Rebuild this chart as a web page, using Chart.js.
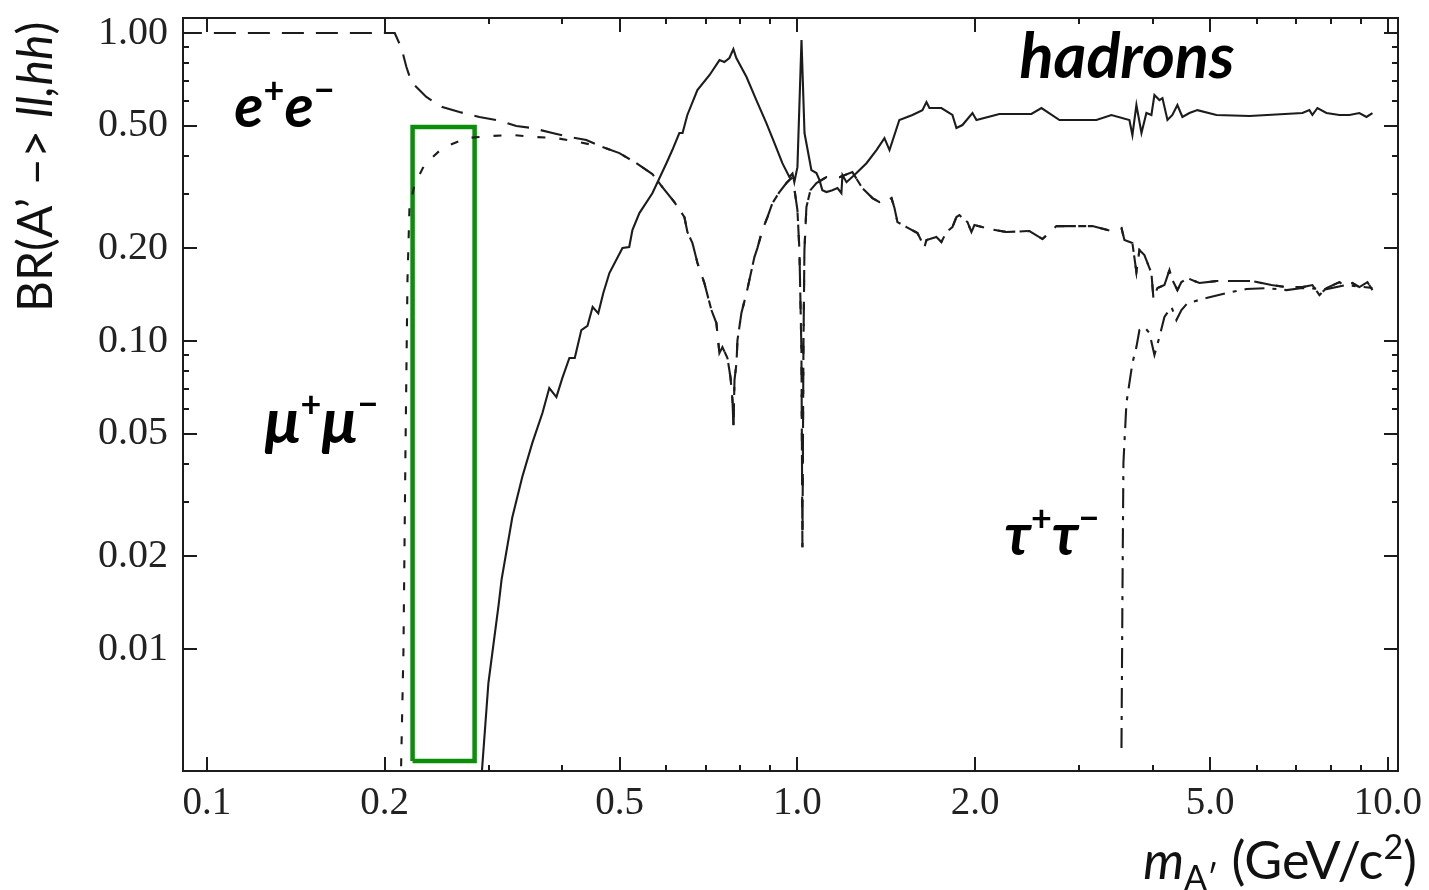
<!DOCTYPE html>
<html><head><meta charset="utf-8">
<script src="https://cdn.jsdelivr.net/npm/chart.js@4/dist/chart.umd.min.js"></script>
<style>html,body{margin:0;padding:0;background:#fff;}#wrap{width:1429px;height:890px;}</style>
</head><body><div id="wrap"><canvas id="c" width="1429" height="890"></canvas></div>
<script>
// ---- data ----
const hadX=[0.291,0.2997,0.312,0.3155,0.329,0.342,0.3557,0.370,0.380,0.3907,0.3998,0.411,0.4197,0.4306,0.441,0.450,0.460,0.469,0.4804,0.5055,0.519,0.5255,0.540,0.568,0.600,0.614,0.631,0.639,0.651,0.677,0.710,0.738,0.752,0.767,0.779,0.788,0.820,0.852,0.886,0.914,0.943,0.969,0.981,0.988,1.000,1.016,1.028,1.056,1.077,1.090,1.102,1.120,1.146,1.169,1.187,1.192,1.211,1.259,1.309,1.361,1.404,1.432,1.488,1.566,1.628,1.654,1.673,1.753,1.830,1.859,1.903,1.979,2.010,2.198,2.490,2.590,2.778,3.208,3.402,3.649,3.692,3.750,3.825,3.899,3.976,4.023,4.102,4.151,4.233,4.315,4.400,4.487,4.611,4.757,5.124,5.829,7.165,7.362,7.449,7.597,7.867,8.277,8.605,8.946,9.196,9.414];
const hadY=[0.0036,0.00776,0.0140,0.0168,0.0268,0.0362,0.0467,0.0584,0.0704,0.0658,0.0758,0.0881,0.0881,0.1086,0.112,0.129,0.123,0.143,0.1663,0.2004,0.202,0.2293,0.2603,0.302,0.378,0.417,0.4735,0.4735,0.542,0.653,0.731,0.817,0.805,0.83,0.887,0.83,0.72,0.606,0.51,0.440,0.378,0.341,0.35,0.328,0.367,0.949,0.4735,0.359,0.351,0.333,0.309,0.3046,0.309,0.3138,0.302,0.346,0.328,0.351,0.378,0.417,0.456,0.417,0.522,0.542,0.562,0.597,0.571,0.571,0.542,0.4915,0.5027,0.55,0.522,0.546,0.546,0.571,0.522,0.522,0.542,0.522,0.4665,0.584,0.4735,0.55,0.542,0.629,0.606,0.615,0.522,0.542,0.584,0.534,0.55,0.562,0.542,0.538,0.55,0.562,0.542,0.571,0.55,0.542,0.542,0.55,0.534,0.55];

const eeLowX=[0.0900,0.208,0.2135,0.2177,0.222,0.2353,0.2504,0.2677,0.2893,0.3093,0.3342,0.3557,0.3847,0.4111,0.4392];
const eeLowY=[1.0,1.0,0.894,0.776,0.693,0.620,0.575,0.554,0.534,0.522,0.499,0.4915,0.4735,0.4596,0.4494];

const muLowX=[0.2125,0.2152,0.2169,0.2186,0.2203,0.2246,0.2335,0.2504,0.2751,0.3009,0.329,0.3614,0.3907,0.4274];
const muLowY=[0.003,0.00993,0.0443,0.158,0.270,0.321,0.373,0.423,0.456,0.463,0.4665,0.4596,0.456,0.4426];

// e+e- and mu+mu- coincide above ~0.46 GeV
const lepX=[0.4675,0.4995,0.5336,0.568,0.5906,0.6189,0.6436,0.6512,0.6641,0.6772,0.6957,0.7150,0.7291,0.7348,0.7377,0.7464,0.7612,0.7702,0.7763,0.7793,0.7824,0.7885,0.7915,0.8038,0.820,0.8293,0.8456,0.8555,0.8723,0.8897,0.9072,0.9322,0.958,0.9768,0.9845,1.000,1.0078,1.0157,1.0197,1.0237,1.0277,1.0357,1.052,1.077,1.120,1.178,1.239,1.288,1.340,1.377,1.420,1.443,1.460,1.477,1.530,1.597,1.641,1.654,1.719,1.753,1.788,1.830,1.859,1.881,1.903,1.941,1.971,1.994,2.114,2.259,2.471,2.600,2.746,2.922,3.159,3.402,3.538,3.579,3.692,3.750,3.795,3.869,3.976,4.007,4.070,4.183,4.266,4.315,4.400,4.470,4.576,4.794,5.124,5.453,5.895,6.348,6.732,7.165,7.449,7.656,7.867,8.277,8.505,8.707,8.946,9.232,9.414];
const lepY=[0.4264,0.4076,0.378,0.3484,0.3162,0.2827,0.2527,0.2259,0.208,0.1792,0.1543,0.1261,0.1144,0.0986,0.0914,0.0956,0.0881,0.0764,0.0643,0.0522,0.0747,0.0848,0.1007,0.1233,0.1432,0.158,0.1874,0.2004,0.2293,0.2527,0.2805,0.3046,0.3258,0.3382,0.328,0.2662,0.1974,0.0935,0.0214,0.0935,0.1974,0.2723,0.309,0.3258,0.3406,0.3406,0.3537,0.3138,0.2912,0.2827,0.287,0.2912,0.2703,0.2434,0.2345,0.2242,0.2019,0.2128,0.2176,0.2097,0.2259,0.2345,0.2527,0.2565,0.2508,0.2434,0.2259,0.2380,0.2311,0.2259,0.2277,0.2144,0.2362,0.2362,0.2362,0.2277,0.2328,0.2128,0.208,0.1675,0.1974,0.1902,0.1663,0.1379,0.1486,0.152,0.170,0.158,0.1464,0.1554,0.1601,0.1543,0.1566,0.1566,0.1566,0.152,0.1497,0.1497,0.152,0.1411,0.1486,0.1554,0.1497,0.1543,0.1497,0.1554,0.1464];

const tauX=[3.538,3.551,3.565,3.579,3.607,3.649,3.692,3.750,3.795,3.869,3.946,4.023,4.102,4.183,4.299,4.383,4.470,4.576,4.926,5.327,5.759,6.226,6.732,7.165,7.867,8.505,9.414];
const tauY=[0.00477,0.0144,0.0402,0.0467,0.0629,0.0730,0.0848,0.0956,0.1086,0.111,0.1062,0.0901,0.1030,0.1197,0.129,0.117,0.1261,0.1328,0.1379,0.1432,0.1475,0.1486,0.1464,0.1486,0.1475,0.152,0.1486];

// highlighted mass window (green box)
const boxX=[0.223,0.223,0.284,0.284,0.223];
const boxY=[0.00433,0.495,0.495,0.00433,0.00433];

const xTicks=[0.1,0.2,0.5,1,2,5,10];
const xTickLabels=['0.1','0.2','0.5','1.0','2.0','5.0','10.0'];
const xMinor=[0.3,0.4,0.6,0.7,0.8,0.9,3,4,6,7,8,9];
const yTicks=[0.01,0.02,0.05,0.1,0.2,0.5,1];
const yTickLabels=['0.01','0.02','0.05','0.10','0.20','0.50','1.00'];
const yMinor=[0.03,0.04,0.06,0.07,0.08,0.09,0.3,0.4,0.6,0.7,0.8,0.9];

// ---- build ----
const pts=(xs,ys)=>xs.map((x,i)=>({x:x,y:ys[i]}));
const eeData=pts(eeLowX.concat(lepX),eeLowY.concat(lepY));
const muData=pts(muLowX.concat(lepX),muLowY.concat(lepY));
const INK='#1c1c1c';
const SANS="Lato, 'Open Sans', 'Noto Sans', sans-serif";

function runsWidth(ctx,runs){let w=0;for(const r of runs){ctx.font=r.f;w+=ctx.measureText(r.t).width;}return w;}
function drawRuns(ctx,runs,x,y){let cx=x;for(const r of runs){ctx.font=r.f;ctx.fillText(r.t,cx,y+(r.dy||0));cx+=ctx.measureText(r.t).width;}}

const decor={
  id:'decor',
  afterDraw(chart){
    const ctx=chart.ctx, a=chart.chartArea, xs=chart.scales.x, ys=chart.scales.y;
    ctx.save();
    ctx.strokeStyle=INK; ctx.lineWidth=2;
    ctx.strokeRect(a.left,a.top,a.right-a.left,a.bottom-a.top);
    const MAJ=14, MIN=6;
    ctx.beginPath();
    const xt=(v,l)=>{const p=Math.round(xs.getPixelForValue(v));ctx.moveTo(p,a.bottom);ctx.lineTo(p,a.bottom-l);ctx.moveTo(p,a.top);ctx.lineTo(p,a.top+l);};
    const yt=(v,l)=>{const p=Math.round(ys.getPixelForValue(v));ctx.moveTo(a.left,p);ctx.lineTo(a.left+l,p);ctx.moveTo(a.right,p);ctx.lineTo(a.right-l,p);};
    xTicks.forEach(v=>xt(v,MAJ)); xMinor.forEach(v=>xt(v,MIN));
    yTicks.forEach(v=>yt(v,MAJ)); yMinor.forEach(v=>yt(v,MIN));
    ctx.stroke();

    ctx.fillStyle='#000'; ctx.textBaseline='alphabetic'; ctx.textAlign='left';
    const P=(x,y)=>[xs.getPixelForValue(x),ys.getPixelForValue(y)];
    const bi='italic bold 60px '+SANS, sup='bold 36px '+SANS;
    const gi='italic bold 64px '+SANS;
    let p=P(0.1113,0.495);
    drawRuns(ctx,[{t:'e',f:bi},{t:'+',f:sup,dy:-24},{t:'e',f:bi},{t:'\u2212',f:sup,dy:-24}],p[0],p[1]);
    p=P(0.1252,0.0467);
    drawRuns(ctx,[{t:'\u03bc',f:gi},{t:'+',f:sup,dy:-26},{t:'\u03bc',f:gi},{t:'\u2212',f:sup,dy:-26}],p[0],p[1]);
    p=P(2.242,0.0202);
    drawRuns(ctx,[{t:'\u03c4',f:bi},{t:'+',f:sup,dy:-24},{t:'\u03c4',f:bi},{t:'\u2212',f:sup,dy:-24}],p[0],p[1]);
    p=P(2.377,0.714);
    drawRuns(ctx,[{t:'hadrons',f:'italic bold 63px '+SANS}],p[0],p[1]);

    // axis titles
    ctx.fillStyle='#111';
    const xr=[{t:'m',f:'italic 52px '+SANS},{t:'A\u2032',f:'34px '+SANS,dy:11},{t:' (GeV/c',f:'52px '+SANS},{t:'2',f:'34px '+SANS,dy:-20},{t:')',f:'52px '+SANS}];
    const w=runsWidth(ctx,xr);
    drawRuns(ctx,xr,1417-w,879);
    ctx.save(); ctx.translate(52,312); ctx.rotate(-Math.PI/2);
    const yr=[{t:'BR(A\u2019 \u2013> ',f:'48px '+SANS},{t:'ll,hh',f:'italic 48px '+SANS},{t:')',f:'48px '+SANS}];
    drawRuns(ctx,yr,0,0);
    ctx.restore();
    ctx.restore();
  }
};

const serif="'Liberation Serif', 'Times New Roman', serif";
const LW=2.1;
new Chart(document.getElementById('c'),{
  type:'line',
  data:{datasets:[
    {label:'hadrons',data:pts(hadX,hadY),borderColor:INK,borderWidth:LW,pointRadius:0,tension:0},
    {label:'ee',data:eeData,borderColor:INK,borderWidth:LW,borderDash:[22,12],pointRadius:0,tension:0},
    {label:'mumu',data:muData,borderColor:INK,borderWidth:LW,borderDash:[8,14],pointRadius:0,tension:0},
    {label:'tautau',data:pts(tauX,tauY),borderColor:INK,borderWidth:LW,borderDash:[20,8,4,8],pointRadius:0,tension:0},
    {label:'window',data:pts(boxX,boxY),borderColor:'#0b8f0b',borderWidth:4.5,pointRadius:0,tension:0,borderJoinStyle:'miter'}
  ]},
  options:{
    responsive:false,animation:false,
    layout:{padding:{top:18,right:31,left:0,bottom:0}},
    plugins:{legend:{display:false},tooltip:{enabled:false}},
    scales:{
      x:{type:'logarithmic',min:0.0911,max:10.4,
        grid:{display:false,drawTicks:false},border:{display:false},
        afterBuildTicks:s=>{s.ticks=xTicks.map(v=>({value:v}));},
        afterFit:s=>{s.height=119;s.paddingLeft=0;s.paddingRight=0;},
        ticks:{autoSkip:false,maxRotation:0,padding:9,color:'#222',font:{family:serif,size:39},
          callback:(v,i)=>xTickLabels[i]}},
      y:{type:'logarithmic',min:0.00402,max:1.119,
        grid:{display:false,drawTicks:false},border:{display:false},
        afterBuildTicks:s=>{s.ticks=yTicks.map(v=>({value:v}));},
        afterFit:s=>{s.width=183;s.paddingTop=0;s.paddingBottom=0;},
        ticks:{autoSkip:false,padding:15,color:'#222',font:{family:serif,size:40},
          callback:(v,i)=>yTickLabels[i]}}
    }
  },
  plugins:[decor]
});
</script></body></html>
